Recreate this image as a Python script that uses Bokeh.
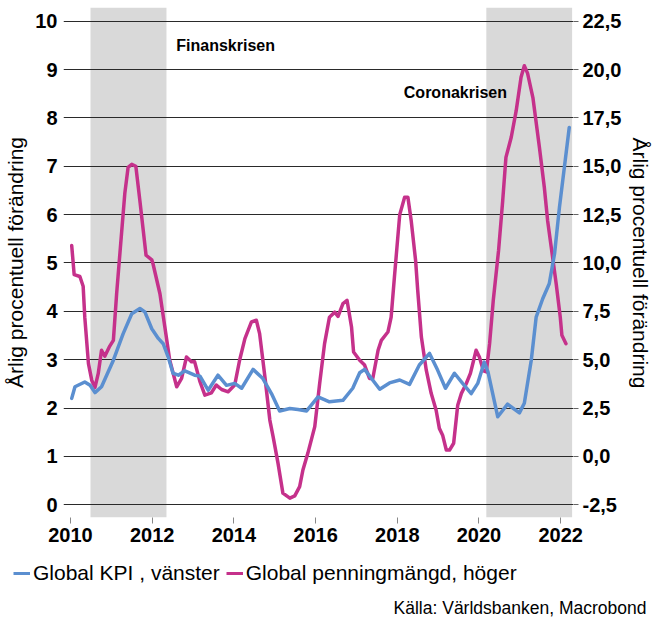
from bokeh.plotting import figure
from bokeh.layouts import row
from bokeh.models import (Range1d, LinearAxis, FixedTicker, BoxAnnotation, Label,
                          Legend, LegendItem)
from bokeh.embed import file_html
from bokeh.resources import INLINE

# ---------------- data ----------------
kpi_years = [2010.03, 2010.11, 2010.35, 2010.48, 2010.60, 2010.76, 2011.05, 2011.29, 2011.50,
             2011.70, 2011.82, 2011.99, 2012.15, 2012.27, 2012.39, 2012.51, 2012.64, 2012.80,
             2013.04, 2013.17, 2013.37, 2013.61, 2013.82, 2014.02, 2014.19, 2014.47, 2014.71,
             2014.92, 2015.12, 2015.37, 2015.57, 2015.78, 2016.06, 2016.34, 2016.67, 2016.91,
             2017.08, 2017.20, 2017.57, 2017.81, 2018.06, 2018.30, 2018.54, 2018.79, 2018.99,
             2019.18, 2019.40, 2019.60, 2019.81, 2019.97, 2020.13, 2020.22, 2020.46, 2020.70,
             2020.99, 2021.11, 2021.28, 2021.40, 2021.56, 2021.72, 2021.85, 2021.97, 2022.21]
kpi_values = [2.20, 2.44, 2.54, 2.47, 2.32, 2.44, 2.99, 3.54, 3.95,
              4.06, 3.99, 3.64, 3.44, 3.33, 3.06, 2.72, 2.68, 2.77,
              2.68, 2.66, 2.37, 2.68, 2.47, 2.51, 2.41, 2.80, 2.61,
              2.30, 1.94, 1.99, 1.97, 1.94, 2.23, 2.13, 2.16, 2.41,
              2.73, 2.80, 2.39, 2.52, 2.58, 2.49, 2.89, 3.13, 2.78,
              2.41, 2.72, 2.51, 2.30, 2.51, 2.95, 2.75, 1.82, 2.08,
              1.90, 2.10, 2.99, 3.88, 4.26, 4.57, 5.19, 6.15, 7.80]

m2_years = [2010.03, 2010.09, 2010.23, 2010.31, 2010.35, 2010.44, 2010.52, 2010.60, 2010.68,
            2010.76, 2010.84, 2010.95, 2011.05, 2011.13, 2011.21, 2011.33, 2011.41, 2011.50,
            2011.60, 2011.70, 2011.85, 2011.99, 2012.02, 2012.19, 2012.31, 2012.43, 2012.60,
            2012.72, 2012.84, 2012.96, 2013.04, 2013.17, 2013.29, 2013.45, 2013.57, 2013.70,
            2013.86, 2014.02, 2014.14, 2014.27, 2014.43, 2014.55, 2014.63, 2014.76, 2014.88,
            2014.96, 2015.08, 2015.20, 2015.37, 2015.49, 2015.61, 2015.69, 2015.81, 2015.98,
            2016.10, 2016.22, 2016.34, 2016.47, 2016.55, 2016.67, 2016.77, 2016.88, 2016.93,
            2017.08, 2017.20, 2017.32, 2017.40, 2017.53, 2017.61, 2017.77, 2017.85, 2017.93,
            2018.06, 2018.18, 2018.26, 2018.34, 2018.45, 2018.50, 2018.59, 2018.71, 2018.83,
            2018.95, 2019.03, 2019.11, 2019.20, 2019.28, 2019.38, 2019.48, 2019.57, 2019.69,
            2019.79, 2019.93, 2020.01, 2020.11, 2020.18, 2020.26, 2020.35, 2020.48, 2020.58,
            2020.66, 2020.79, 2020.91, 2021.03, 2021.11, 2021.19, 2021.32, 2021.48, 2021.60,
            2021.68, 2021.77, 2021.89, 2021.99, 2022.03, 2022.13]
m2_values = [10.9, 9.4, 9.3, 8.8, 7.2, 4.8, 3.94, 3.57, 4.29,
             5.49, 5.18, 5.66, 6.0, 8.41, 10.5, 13.6, 14.94, 15.1,
             15.0, 13.2, 10.4, 10.16, 9.96, 8.41, 6.69, 4.97, 3.6,
             4.03, 5.14, 4.89, 4.89, 3.86, 3.17, 3.29, 3.69, 3.46,
             3.34, 3.69, 4.97, 6.09, 6.95, 7.04, 6.35, 4.11, 1.88,
             1.02, -0.35, -1.9, -2.16, -2.04, -1.56, -0.7, 0.16, 1.54,
             3.77, 5.83, 7.2, 7.46, 7.24, 7.9, 8.07, 6.69, 5.4,
             4.97, 4.72, 4.03, 4.03, 5.49, 6.0, 6.43, 7.2, 9.27,
             12.5, 13.4, 13.4, 12.2, 10.1, 8.6, 6.17, 4.46, 3.26,
             2.4, 1.45, 1.1, 0.33, 0.33, 0.68, 2.65, 3.26, 3.77,
             4.29, 5.49, 5.14, 4.42, 4.37, 5.83, 8.07, 10.65, 13.2,
             15.46, 16.5, 17.86, 19.6, 20.2, 19.8, 18.55, 15.97, 13.9,
             12.2, 10.8, 8.93, 7.2, 6.26, 5.83]

crisis_start = [2010.49, 2020.18]
crisis_end = [2012.35, 2022.28]
crisis_names = ["Finanskrisen", "Coronakrisen"]
crisis_label_x = [2012.59, 2018.16]
crisis_label_y = [9.49, 8.53]

x_ticks = [2010, 2012, 2014, 2016, 2018, 2020, 2022]
left_ticks = [0, 1, 2, 3, 4, 5, 6, 7, 8, 9, 10]
right_ticks = [-2.5, 0.0, 2.5, 5.0, 7.5, 10.0, 12.5, 15.0, 17.5, 20.0, 22.5]
right_labels = ["-2,5", "0,0", "2,5", "5,0", "7,5", "10,0", "12,5", "15,0", "17,5", "20,0", "22,5"]

axis_title = "Årlig procentuell förändring"
legend_labels = ["Global KPI , vänster", "Global penningmängd, höger"]
source_text = "Källa: Världsbanken, Macrobond"

BLUE = "#5B8FD0"
MAGENTA = "#C5318B"
FONT = "Liberation Sans"

Y_RANGE = (-0.263, 10.283)

# ---------------- main chart ----------------
p = figure(width=628, height=557, output_backend="svg", toolbar_location=None,
           x_range=Range1d(2009.829, 2022.314), y_range=Range1d(*Y_RANGE),
           min_border_left=63, min_border_right=55, min_border_top=7, min_border_bottom=40)
p.title.visible = False
p.outline_line_color = None
p.background_fill_color = "white"
p.border_fill_color = "white"
p.extra_y_ranges = {"right": Range1d(-3.1575, 23.2075)}

for s, e in zip(crisis_start, crisis_end):
    p.add_layout(BoxAnnotation(left=s, right=e, fill_color="#D9D9D9", fill_alpha=1.0,
                               line_color=None, level="image"))

p.xgrid.visible = False
p.ygrid.ticker = FixedTicker(ticks=left_ticks)
p.ygrid.grid_line_color = "#2a2a2a"
p.ygrid.grid_line_width = 1

r_m2 = p.line(m2_years, m2_values, y_range_name="right", line_color=MAGENTA,
              line_width=3.5, line_join="round", line_cap="round")
r_kpi = p.line(kpi_years, kpi_values, line_color=BLUE, line_width=3.5,
               line_join="round", line_cap="round")

xa = p.xaxis[0]
xa.ticker = FixedTicker(ticks=x_ticks)
xa.axis_line_color = None
xa.major_tick_out = 6
xa.major_tick_in = 0
xa.major_tick_line_color = "#888888"
xa.minor_tick_line_color = None
xa.major_label_standoff = 4
xa.major_label_text_font = FONT
xa.major_label_text_font_style = "bold"
xa.major_label_text_font_size = "20px"
xa.major_label_text_color = "black"

ya = p.yaxis[0]
ya.ticker = FixedTicker(ticks=left_ticks)
ya.axis_line_color = None
ya.major_tick_out = 0
ya.major_tick_in = 0
ya.minor_tick_line_color = None
ya.major_label_standoff = 6
ya.major_label_text_font = FONT
ya.major_label_text_font_style = "bold"
ya.major_label_text_font_size = "20px"
ya.major_label_text_color = "black"
ya.axis_label = axis_title
ya.axis_label_standoff = 5
ya.axis_label_text_font = FONT
ya.axis_label_text_font_style = "normal"
ya.axis_label_text_font_size = "21px"
ya.axis_label_text_color = "black"

ra = LinearAxis(y_range_name="right")
ra.ticker = FixedTicker(ticks=right_ticks)
ra.major_label_overrides = {t: l for t, l in zip(right_ticks, right_labels)}
ra.axis_line_color = None
ra.major_tick_out = 5
ra.major_tick_in = 0
ra.major_tick_line_color = "#666666"
ra.minor_tick_line_color = None
ra.major_label_standoff = 4
ra.major_label_text_font = FONT
ra.major_label_text_font_style = "bold"
ra.major_label_text_font_size = "20px"
ra.major_label_text_color = "black"
p.add_layout(ra, "right")

for name, lx, ly in zip(crisis_names, crisis_label_x, crisis_label_y):
    p.add_layout(Label(x=lx, y=ly, text=name, text_align="left", text_baseline="alphabetic",
                       text_font=FONT, text_font_style="bold", text_font_size="16px",
                       text_color="black"))

# ---------------- right axis title strip ----------------
p3 = figure(width=25, height=557, output_backend="svg", toolbar_location=None,
            x_range=Range1d(0, 25), y_range=Range1d(*Y_RANGE),
            min_border_left=0, min_border_right=0, min_border_top=7, min_border_bottom=40,
            x_axis_location=None, y_axis_location=None)
p3.title.visible = False
p3.outline_line_color = None
p3.grid.visible = False
p3.background_fill_color = "white"
p3.border_fill_color = "white"
p3.add_layout(Label(x=12, y=5.0, x_units="screen", text=axis_title, angle=-1.5707963,
                    text_align="center", text_baseline="middle", text_font=FONT,
                    text_font_size="21px", text_color="black"))

# ---------------- legend + source strip ----------------
p2 = figure(width=653, height=60, output_backend="svg", toolbar_location=None,
            x_range=Range1d(0, 653), y_range=Range1d(0, 60),
            min_border_left=0, min_border_right=0, min_border_top=0, min_border_bottom=0,
            x_axis_location=None, y_axis_location=None)
p2.title.visible = False
p2.outline_line_color = None
p2.grid.visible = False
p2.background_fill_color = "white"
p2.border_fill_color = "white"

# legend proxies: same series, but they fall outside this strip's ranges
l_kpi = p2.line(kpi_years, kpi_values, line_color=BLUE, line_width=3)
l_m2 = p2.line(m2_years, m2_values, line_color=MAGENTA, line_width=3)

legend = Legend(items=[LegendItem(label=legend_labels[0], renderers=[l_kpi]),
                       LegendItem(label=legend_labels[1], renderers=[l_m2])],
                location=(13, 32), orientation="horizontal", glyph_width=17, glyph_height=20,
                label_standoff=3, spacing=6, padding=0, margin=0, border_line_color=None,
                background_fill_alpha=0, label_text_font=FONT, label_text_font_size="21px",
                label_text_color="black")
p2.add_layout(legend)

p2.add_layout(Label(x=646, y=10, text=source_text, text_align="right",
                    text_baseline="alphabetic", text_font=FONT, text_font_size="17.5px",
                    text_color="black"))

open("out.html", "w").write(file_html([row(p, p3), p2], INLINE))
